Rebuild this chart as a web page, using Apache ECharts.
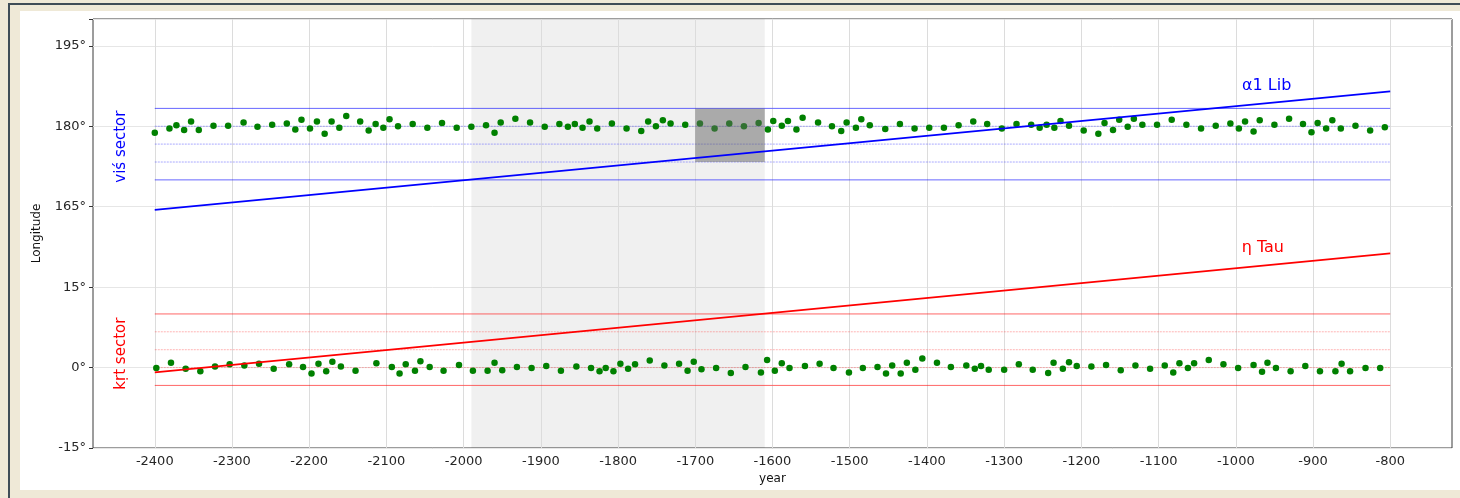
<!DOCTYPE html>
<html><head><meta charset="utf-8">
<script src="https://cdn.jsdelivr.net/npm/echarts@6/dist/echarts.min.js"></script>
<style>
html,body{margin:0;padding:0;width:1460px;height:498px;overflow:hidden;background:#efe9d7;}
#frameL{position:absolute;left:8px;top:3px;width:2px;height:495px;background:#3f4d57;}
#frameT{position:absolute;left:8px;top:3px;width:1452px;height:2px;background:#3f4d57;}
#paper{position:absolute;left:20px;top:11px;width:1440px;height:479px;background:#fff;}
#chart{position:absolute;left:0;top:0;width:1460px;height:498px;}
</style></head><body>
<div id="frameL"></div><div id="frameT"></div><div id="paper"></div>
<div id="chart"></div>
<script>
// ---- data ----
const xTickYears = [-2400,-2300,-2200,-2100,-2000,-1900,-1800,-1700,-1600,-1500,-1400,-1300,-1200,-1100,-1000,-900,-800];
const yTickLongitudes = [-15, 0, 15, 165, 180, 195];

const visYears = [-2400,-2381,-2372,-2362,-2353,-2343,-2324,-2305,-2285,-2267,-2248,-2229,-2218,-2210,-2199,-2190,-2180,-2171,-2161,-2152,-2134,-2123,-2114,-2104,-2096,-2085,-2066,-2047,-2028,-2009,-1990,-1971,-1960,-1952,-1933,-1914,-1895,-1876,-1865,-1856,-1846,-1837,-1827,-1808,-1789,-1770,-1761,-1751,-1742,-1732,-1713,-1694,-1675,-1656,-1637,-1618,-1606,-1599,-1588,-1580,-1569,-1561,-1541,-1523,-1511,-1504,-1492,-1485,-1474,-1454,-1435,-1416,-1397,-1378,-1359,-1340,-1322,-1303,-1284,-1265,-1254,-1245,-1235,-1227,-1216,-1197,-1178,-1170,-1159,-1151,-1140,-1132,-1121,-1102,-1083,-1064,-1045,-1026,-1007,-996,-988,-977,-969,-950,-931,-913,-902,-894,-883,-875,-864,-845,-826,-807];
const visLongitudes = [178.8,179.6,180.2,179.3,180.9,179.3,180.1,180.1,180.7,179.9,180.3,180.5,179.4,181.2,179.6,180.9,178.6,180.9,179.7,181.9,180.9,179.2,180.4,179.7,181.3,180.0,180.4,179.7,180.6,179.7,179.9,180.2,178.8,180.7,181.4,180.7,179.9,180.4,179.9,180.4,179.7,180.9,179.6,180.5,179.6,179.1,180.9,180.0,181.1,180.5,180.3,180.5,179.6,180.5,180.0,180.6,179.4,181.0,180.1,181.0,179.4,181.6,180.7,180.0,179.1,180.7,179.7,181.3,180.2,179.5,180.4,179.6,179.7,179.7,180.2,180.9,180.4,179.6,180.4,180.3,179.7,180.3,179.7,181.0,180.1,179.2,178.6,180.6,179.3,181.2,179.9,181.4,180.3,180.3,181.2,180.3,179.6,180.1,180.5,179.6,180.9,179.0,181.1,180.3,181.4,180.4,178.9,180.6,179.6,181.1,179.6,180.1,179.2,179.8];

const krtYears = [-2398,-2379,-2360,-2341,-2322,-2303,-2284,-2265,-2246,-2226,-2208,-2197,-2188,-2178,-2170,-2159,-2140,-2113,-2093,-2083,-2075,-2063,-2056,-2044,-2026,-2006,-1988,-1969,-1960,-1950,-1931,-1912,-1893,-1874,-1854,-1835,-1824,-1816,-1806,-1797,-1787,-1778,-1759,-1740,-1721,-1710,-1702,-1692,-1673,-1654,-1635,-1615,-1607,-1597,-1588,-1578,-1558,-1539,-1521,-1501,-1483,-1464,-1453,-1445,-1434,-1426,-1415,-1406,-1387,-1369,-1349,-1338,-1330,-1320,-1300,-1281,-1263,-1243,-1236,-1224,-1216,-1206,-1187,-1168,-1149,-1130,-1111,-1092,-1081,-1073,-1062,-1054,-1035,-1016,-997,-977,-966,-959,-948,-929,-910,-891,-871,-863,-852,-832,-813];
const krtLongitudes = [-0.1,0.9,-0.2,-0.7,0.2,0.6,0.4,0.7,-0.2,0.6,0.1,-1.1,0.7,-0.7,1.1,0.2,-0.6,0.8,0.1,-1.1,0.6,-0.6,1.2,0.1,-0.6,0.5,-0.6,-0.6,0.9,-0.5,0.1,-0.1,0.3,-0.6,0.2,-0.1,-0.7,-0.1,-0.7,0.7,-0.2,0.6,1.3,0.4,0.7,-0.6,1.1,-0.3,-0.1,-1.0,0.1,-0.9,1.4,-0.6,0.8,-0.1,0.3,0.7,-0.1,-0.9,-0.1,0.1,-1.1,0.4,-1.1,0.9,-0.4,1.7,0.9,0.1,0.4,-0.2,0.3,-0.4,-0.4,0.6,-0.4,-1.0,0.9,-0.2,1.0,0.3,0.2,0.5,-0.5,0.4,-0.2,0.4,-0.9,0.8,-0.1,0.8,1.4,0.6,-0.1,0.5,-0.8,0.9,-0.1,-0.7,0.3,-0.7,-0.7,0.7,-0.7,-0.1,-0.1];

const starYears = [-2400, -800];
const alphaLibLongitudes = [164.4, 186.5];
const etaTauLongitudes = [-0.9, 21.3];

const visSectorLines = [170, 173.33, 176.67, 180, 183.33];
const krtSectorLines = [-3.33, 0, 3.33, 6.67, 10];

const shadeYears = [-1990, -1610];
const boxYears = [-1700, -1610];
const boxLongitudes = [173.33, 183.33];

// broken longitude axis: 15°..150° collapsed
const BREAK_SHIFT = 135;
const toAxis = lon => lon > 90 ? lon - BREAK_SHIFT : lon;
const fromAxis = v => v > 15 ? v + BREAK_SHIFT : v;

const FONT = 'DejaVu Sans';
const chart = echarts.init(document.getElementById('chart'), null, {renderer:'canvas'});

const series = [];
series.push({
  type:'scatter', name:'vis', z:3,
  data: visYears.map((y,i)=>[y, toAxis(visLongitudes[i])]),
  symbolSize:6.5, itemStyle:{color:'#008000', opacity:1}, silent:true,
  markLine:{
    silent:true, symbol:'none', z:1, label:{show:false},
    lineStyle:{color:'#dcdcdc', width:1, type:'solid'},
    data: xTickYears.map(x=>({xAxis:x}))
  },
  markArea:{
    silent:true, z:1, itemStyle:{color:'rgba(0,0,0,0.06)'},
    data:[[{xAxis:shadeYears[0]},{xAxis:shadeYears[1]}]]
  }
});
series.push({
  type:'scatter', name:'krt', z:3,
  data: krtYears.map((y,i)=>[y, toAxis(krtLongitudes[i])]),
  symbolSize:6.5, itemStyle:{color:'#008000', opacity:1}, silent:true,
  markArea:{
    silent:true, z:4, itemStyle:{color:'rgba(100,100,100,0.5)'},
    data:[[{xAxis:boxYears[0], yAxis:toAxis(boxLongitudes[0])},{xAxis:boxYears[1], yAxis:toAxis(boxLongitudes[1])}]]
  }
});
function hline(v, color, type){
  series.push({type:'line', z:2, silent:true, symbol:'none',
    data: starYears.map(x=>[x, toAxis(v)]),
    lineStyle:{color:color, width:1, type:type}});
}
visSectorLines.forEach((v,i)=>{
  const edge = i===0 || i===visSectorLines.length-1;
  hline(v, edge ? 'rgba(0,0,255,0.6)' : 'rgba(40,40,255,0.4)', edge ? 'solid' : [2,1]);
});
krtSectorLines.forEach((v,i)=>{
  const edge = i===0 || i===krtSectorLines.length-1;
  hline(v, edge ? 'rgba(255,0,0,0.6)' : 'rgba(255,40,40,0.35)', edge ? 'solid' : [2,1]);
});
series.push({type:'line', z:5, silent:true, symbol:'none',
  data: starYears.map((x,i)=>[x, toAxis(alphaLibLongitudes[i])]),
  lineStyle:{color:'#0000ff', width:1.6}});
series.push({type:'line', z:5, silent:true, symbol:'none',
  data: starYears.map((x,i)=>[x, toAxis(etaTauLongitudes[i])]),
  lineStyle:{color:'#ff0000', width:1.6}});

const axisText = {color:'#262626', fontFamily:FONT, fontSize:13};
chart.setOption({
  animation:false,
  backgroundColor:'transparent',
  grid:{left:93, top:19, width:1359, height:429, show:true, borderColor:'#3a3a3a', borderWidth:1, backgroundColor:'transparent'},
  xAxis:{
    type:'value', min:-2480, max:-720,
    name:'year', nameLocation:'middle', nameGap:25,
    nameTextStyle:{color:'#111', fontFamily:FONT, fontSize:12},
    axisLine:{show:false},
    axisTick:{show:true, length:4, lineStyle:{color:'#333'}, customValues:xTickYears},
    axisLabel:Object.assign({customValues:xTickYears, margin:7, formatter:v=>String(v)}, axisText),
    splitLine:{show:false}
  },
  yAxis:{
    type:'value', min:-15, max:65, interval:15,
    name:'Longitude', nameLocation:'middle', nameGap:50, nameRotate:90,
    nameTextStyle:{color:'#111', fontFamily:FONT, fontSize:12},
    axisLine:{show:false},
    axisTick:{show:true, length:4, lineStyle:{color:'#333'}},
    axisLabel:Object.assign({margin:7, formatter:v=>{
      const lon = fromAxis(v);
      return yTickLongitudes.includes(lon) ? lon + '°' : '';
    }}, axisText),
    splitLine:{show:true, lineStyle:{color:'#e6e6e6', width:1}}
  },
  series: series
});

function px(year, lon){ return chart.convertToPixel({gridIndex:0}, [year, toAxis(lon)]); }
const pA = px(-960, 187.6), pE = px(-965, 22.4), pV = px(-2443, 176.2), pK = px(-2443, 2.6);
chart.setOption({graphic:[
  {type:'text', x:pA[0], y:pA[1], z:10, style:{text:'α1 Lib', fill:'#0000ff', font:'16px "DejaVu Sans"', textAlign:'center', textVerticalAlign:'middle'}},
  {type:'text', x:pE[0], y:pE[1], z:10, style:{text:'η Tau', fill:'#ff0000', font:'16px "DejaVu Sans"', textAlign:'center', textVerticalAlign:'middle'}},
  {type:'text', x:pV[0], y:pV[1], rotation:Math.PI/2, z:10, style:{text:'viś sector', fill:'#0000ff', font:'15px "DejaVu Sans"', textAlign:'center', textVerticalAlign:'middle'}},
  {type:'text', x:pK[0], y:pK[1], rotation:Math.PI/2, z:10, style:{text:'kṛt sector', fill:'#ff0000', font:'15px "DejaVu Sans"', textAlign:'center', textVerticalAlign:'middle'}}
]});
</script>
</body></html>
